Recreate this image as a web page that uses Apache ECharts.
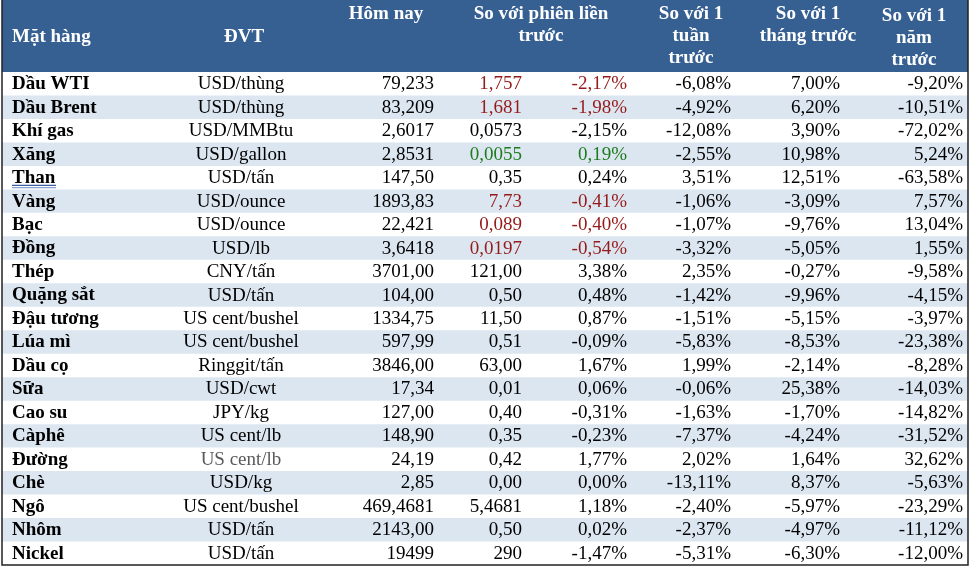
<!DOCTYPE html>
<html>
<head>
<meta charset="utf-8">
<script src="https://cdn.jsdelivr.net/npm/echarts@6/dist/echarts.min.js"></script>
<style>
html,body{margin:0;padding:0;background:#fff;}
#chart{width:973px;height:569px;}
</style>
</head>
<body>
<div id="chart"></div>
<script>
// ---------- DATA ----------
const headers = ['Mặt hàng', 'ĐVT', 'Hôm nay', 'So với phiên liền\ntrước', 'So với 1\ntuần\ntrước', 'So với 1\ntháng trước', 'So với 1\nnăm\ntrước'];
const names = ['Dầu WTI','Dầu Brent','Khí gas','Xăng','Than','Vàng','Bạc','Đồng','Thép','Quặng sắt','Đậu tương','Lúa mì','Dầu cọ','Sữa','Cao su','Càphê','Đường','Chè','Ngô','Nhôm','Nickel'];
const units = ['USD/thùng','USD/thùng','USD/MMBtu','USD/gallon','USD/tấn','USD/ounce','USD/ounce','USD/lb','CNY/tấn','USD/tấn','US cent/bushel','US cent/bushel','Ringgit/tấn','USD/cwt','JPY/kg','US cent/lb','US cent/lb','USD/kg','US cent/bushel','USD/tấn','USD/tấn'];
const today = [79.233, 83.209, 2.6017, 2.8531, 147.50, 1893.83, 22.421, 3.6418, 3701.00, 104.00, 1334.75, 597.99, 3846.00, 17.34, 127.00, 148.90, 24.19, 2.85, 469.4681, 2143.00, 19499];
const change = [1.757, 1.681, 0.0573, 0.0055, 0.35, 7.73, 0.089, 0.0197, 121.00, 0.50, 11.50, 0.51, 63.00, 0.01, 0.40, 0.35, 0.42, 0.00, 5.4681, 0.50, 290];
const decimals = [3,3,4,4,2,2,3,4,2,2,2,2,2,2,2,2,2,2,4,2,0];
const pctDay = [-2.17,-1.98,-2.15,0.19,0.24,-0.41,-0.40,-0.54,3.38,0.48,0.87,-0.09,1.67,0.06,-0.31,-0.23,1.77,0.00,1.18,0.02,-1.47];
const pctWeek = [-6.08,-4.92,-12.08,-2.55,3.51,-1.06,-1.07,-3.32,2.35,-1.42,-1.51,-5.83,1.99,-0.06,-1.63,-7.37,2.02,-13.11,-2.40,-2.37,-5.31];
const pctMonth = [7.00,6.20,3.90,10.98,12.51,-3.09,-9.76,-5.05,-0.27,-9.96,-5.15,-8.53,-2.14,25.38,-1.70,-4.24,1.64,8.37,-5.97,-4.97,-6.30];
const pctYear = [-9.20,-10.51,-72.02,5.24,-63.58,7.57,13.04,1.55,-9.58,-4.15,-3.97,-23.38,-8.28,-14.03,-14.82,-31.52,32.62,-5.63,-23.29,-11.12,-12.00];
// highlight of the daily change cells: -1 red, 1 green, 0 plain
const dayTone = [-1,-1,0,1,0,-1,-1,-1,0,0,0,0,0,0,0,0,0,0,0,0,0];
const linkedNames = ['Than'];
const greyUnitRows = ['Đường'];

// ---------- LAYOUT / STYLE ----------
const FONT = '"Liberation Serif","Times New Roman",serif';
const FS = 19;
const HEADER_ROWS = 3.067;
const WIDTH_UNITS = 966;
const HEADER_BG = '#366092';
const ALT_BG = '#DCE6F1';
const RED = '#951A1A';
const GREEN = '#1E7B1E';
// column anchors in px offset from table left edge
const COL = { name: 10, unit: 239, today: 432, chg: 520, day: 625, week: 729, month: 838, year: 961 };
const HCOL = { unit: 242, today: 384, day: 539, week: 689, month: 806, year: 912 };

function fmt(v, d) { return v.toFixed(d).replace('.', ','); }
function pct(v) { return fmt(v, 2) + '%'; }

const chart = echarts.init(document.getElementById('chart'), null, { renderer: 'canvas' });

function txt(x, y, text, opt) {
  return {
    type: 'text', x: x, y: y, z2: 10,
    style: Object.assign({
      text: text, fill: '#000', fontSize: FS, fontFamily: FONT,
      align: 'left', verticalAlign: 'middle'
    }, opt || {})
  };
}

function renderRow(params, api) {
  const i = api.value(0);
  const p0 = api.coord([0, i]);
  const p1 = api.coord([WIDTH_UNITS, i + 1]);
  const X = u => api.coord([u, i])[0];
  const y0 = p0[1], h = p1[1] - p0[1];
  const yc = y0 + h / 2 + 0.5;
  const tone = dayTone[i] < 0 ? RED : (dayTone[i] > 0 ? GREEN : '#000');
  const children = [
    { type: 'rect', shape: { x: p0[0], y: y0, width: p1[0] - p0[0], height: h + 0.5 }, style: { fill: i % 2 ? ALT_BG : '#fff' } },
    txt(X(COL.name), yc, names[i], { fontWeight: 'bold' }),
    txt(X(COL.unit), yc, units[i], { align: 'center', fill: greyUnitRows.indexOf(names[i]) >= 0 ? '#595959' : '#000' }),
    txt(X(COL.today), yc, fmt(today[i], decimals[i]), { align: 'right' }),
    txt(X(COL.chg), yc, fmt(change[i], decimals[i]), { align: 'right', fill: tone }),
    txt(X(COL.day), yc, pct(pctDay[i]), { align: 'right', fill: tone }),
    txt(X(COL.week), yc, pct(pctWeek[i]), { align: 'right' }),
    txt(X(COL.month), yc, pct(pctMonth[i]), { align: 'right' }),
    txt(X(COL.year), yc, pct(pctYear[i]), { align: 'right' })
  ];
  if (linkedNames.indexOf(names[i]) >= 0) {
    const xs = X(COL.name), w = 44;
    const uy = y0 + h - 4;
    children.push({ type: 'line', shape: { x1: xs, y1: uy, x2: xs + w, y2: uy }, style: { stroke: '#3E5F9E', lineWidth: 1.2 }, z2: 11 });
    children.push({ type: 'line', shape: { x1: xs, y1: uy + 2.3, x2: xs + w, y2: uy + 2.3 }, style: { stroke: '#86A3D3', lineWidth: 1.2 }, z2: 11 });
  }
  return { type: 'group', children: children };
}

function renderHeader(params, api) {
  const a = api.coord([0, -HEADER_ROWS]);
  const b = api.coord([WIDTH_UNITS, 0]);
  const X = u => api.coord([u, 0])[0];
  const top = a[1];
  const hs = { fill: '#fff', fontWeight: 'bold', lineHeight: 22 };
  const ctr = Object.assign({ align: 'center', verticalAlign: 'top' }, hs);
  return {
    type: 'group',
    children: [
      { type: 'rect', shape: { x: a[0], y: top, width: b[0] - a[0], height: b[1] - top }, style: { fill: HEADER_BG } },
      txt(X(COL.name), top + 37, headers[0], hs),
      txt(X(HCOL.unit), top + 37, headers[1], Object.assign({ align: 'center' }, hs)),
      txt(X(HCOL.today), top + 3, headers[2], ctr),
      txt(X(HCOL.day), top + 3, headers[3], ctr),
      txt(X(HCOL.week), top + 3, headers[4], ctr),
      txt(X(HCOL.month), top + 3, headers[5], ctr),
      txt(X(HCOL.year), top + 5, headers[6], ctr)
    ]
  };
}

function renderFrame(params, api) {
  const a = api.coord([0, -HEADER_ROWS]);
  const b = api.coord([WIDTH_UNITS, names.length]);
  return {
    type: 'polyline', z2: 20,
    shape: { points: [[a[0], a[1]], [a[0], b[1]], [b[0], b[1]], [b[0], a[1]]] },
    style: { fill: 'none', stroke: '#222', lineWidth: 1.5 }
  };
}

chart.setOption({
  animation: false,
  grid: { left: 2, right: 5, top: 0, bottom: 4 },
  xAxis: { type: 'value', min: 0, max: WIDTH_UNITS, show: false },
  yAxis: { type: 'value', min: -HEADER_ROWS, max: names.length, inverse: true, show: false },
  series: [
    { type: 'custom', renderItem: renderRow, data: names.map((n, i) => [i]), encode: { y: 0 }, clip: false, silent: true },
    { type: 'custom', renderItem: renderHeader, data: [[0]], encode: { y: 0 }, clip: false, silent: true },
    { type: 'custom', renderItem: renderFrame, data: [[0]], encode: { y: 0 }, clip: false, silent: true, z: 5 }
  ]
});
</script>
</body>
</html>
